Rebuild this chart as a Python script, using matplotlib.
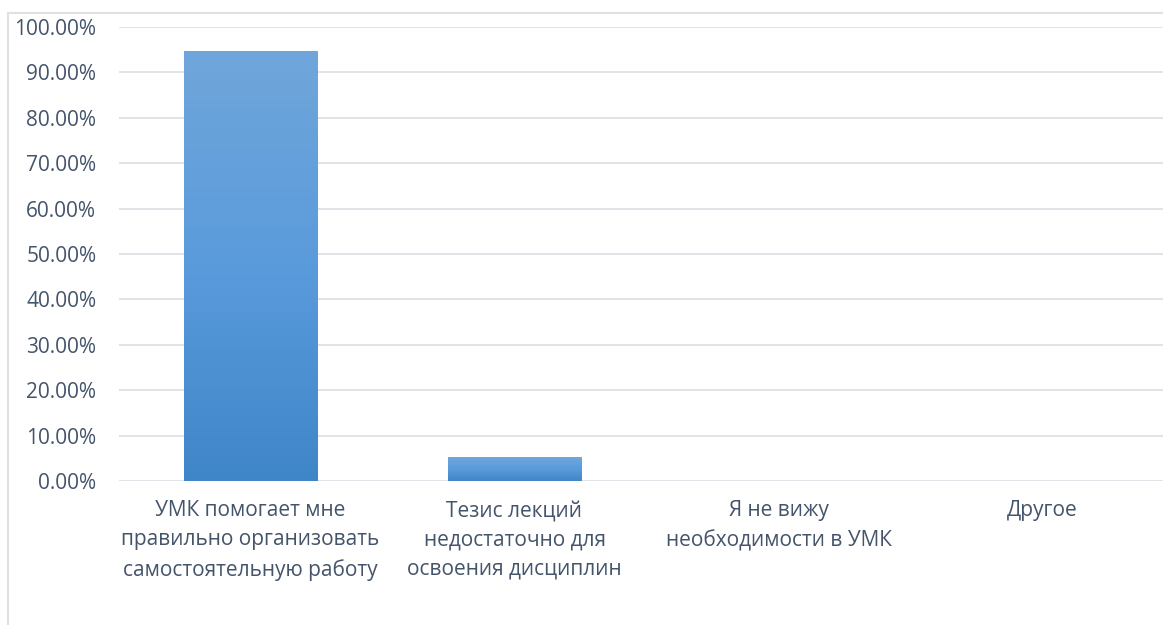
import matplotlib.pyplot as plt
import numpy as np
from matplotlib.patches import Rectangle
from matplotlib.ticker import FuncFormatter
from matplotlib.colors import LinearSegmentedColormap

categories = ["УМК помогает мне\nправильно организовать\nсамостоятельную работу",
              "Тезис лекций\nнедостаточно для\nосвоения дисциплин",
              "Я не вижу\nнеобходимости в УМК",
              "Другое"]
values = [94.74, 5.26, 0.0, 0.0]
yticks = [0, 10, 20, 30, 40, 50, 60, 70, 80, 90, 100]

text_col = '#44546a'
grid_col = '#dde1e6'

plt.rcParams['font.family'] = ['Open Sans', 'DejaVu Sans']

fig = plt.figure(figsize=(11.63, 6.25), dpi=100)
ax = fig.add_axes([118.5/1163, 1-481/625, 1056/1163, 454/625])

x = np.arange(len(categories))
bars = ax.bar(x, values, width=0.505, color='none', zorder=3)

# vertical gradient, lighter at the top
grad = np.linspace(0, 1, 256).reshape(-1, 1)
cmap = LinearSegmentedColormap.from_list('g', ['#3f86c8', '#5a9bdc', '#70a6da'])
for b in bars:
    h = b.get_height()
    if h <= 0:
        continue
    x0 = b.get_x()
    w = b.get_width()
    im = ax.imshow(grad, cmap=cmap, aspect='auto', origin='lower',
                   extent=[x0, x0 + w, 0, h], zorder=3)
    im.set_clip_path(b)

ax.set_xlim(-0.5, len(categories) - 0.5)
ax.set_ylim(0, 100)
ax.set_yticks(yticks)
ax.yaxis.set_major_formatter(FuncFormatter(lambda v, p: f"{v:.2f}%"))
ax.set_xticks(x)
ax.set_xticklabels(categories, linespacing=1.5)
ax.tick_params(axis='both', length=0, labelsize=15, colors=text_col)
ax.tick_params(axis='y', pad=16)
ax.tick_params(axis='x', pad=14)
ax.grid(axis='y', color=grid_col, linewidth=1.3, zorder=0)
for s in ax.spines.values():
    s.set_visible(False)

# outer chart frame
frame = Rectangle((8/1163, -0.05), 1.2, 1 - 13/625 + 0.05, transform=fig.transFigure,
                  fill=False, edgecolor=grid_col, linewidth=1.5)
fig.patches.append(frame)

fig.savefig('out.png', dpi=100)
